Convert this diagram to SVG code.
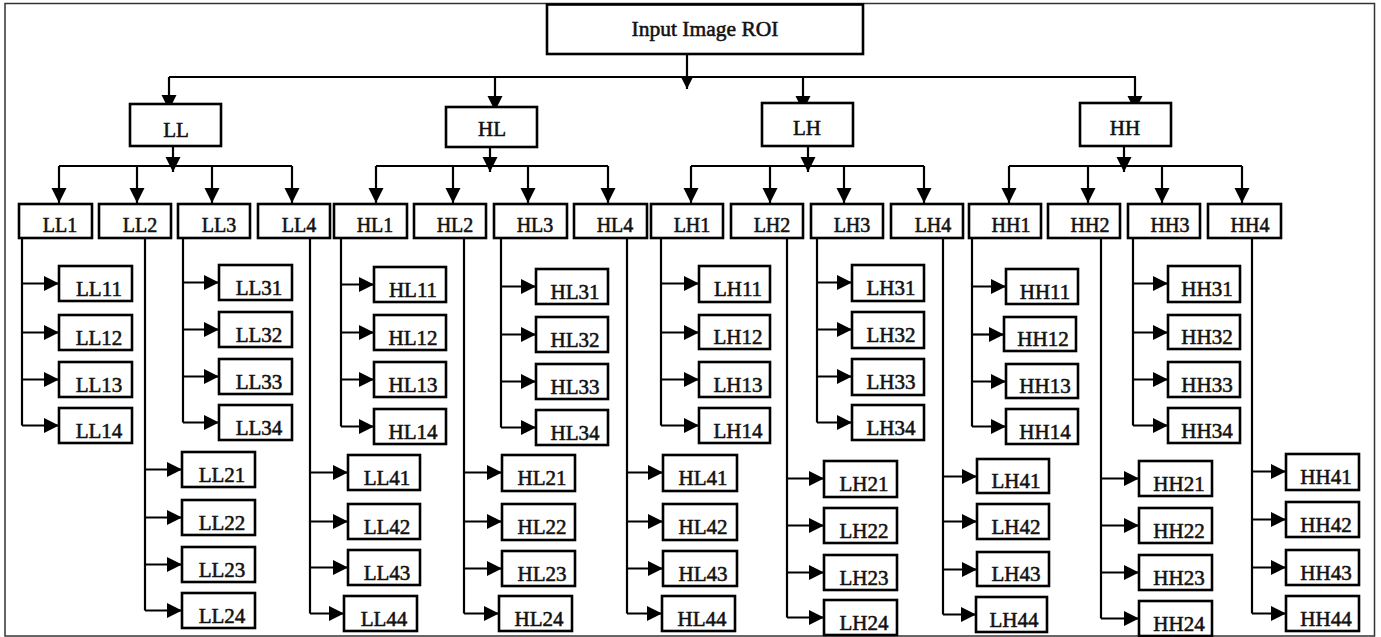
<svg xmlns="http://www.w3.org/2000/svg" width="1381" height="637" viewBox="0 0 1381 637">
<style>
.b{fill:#fff;stroke:#000;stroke-width:2.6}
.t{font-family:"Liberation Serif","Times New Roman",serif;font-weight:normal;font-size:21px;fill:#111;stroke:#111;stroke-width:0.55;text-anchor:middle}
.t2{font-size:20px}
.t0{font-size:21.5px}
.c{fill:none;stroke:#000;stroke-width:2.2}
.a{fill:none;stroke:#000;stroke-width:2.2;marker-end:url(#arr)}
.as{fill:none;stroke:#000;stroke-width:2.2;marker-end:url(#arrS)}
</style>
<defs>
<marker id="arr" markerUnits="userSpaceOnUse" markerWidth="16" markerHeight="16" refX="15" refY="7.5" orient="auto"><path d="M0,0 L15,7.5 L0,15 z" fill="#000"/></marker>
<marker id="arrS" markerUnits="userSpaceOnUse" markerWidth="14" markerHeight="14" refX="13" refY="6.5" orient="auto"><path d="M0,0 L13,6.5 L0,13 z" fill="#000"/></marker>
</defs>
<rect x="0" y="0" width="1381" height="637" fill="#fff"/>
<rect x="5" y="3.5" width="1369.5" height="632.5" fill="none" stroke="#333" stroke-width="1.5"/>

<g id="connectors">
<path class="c" d="M169 77 H1136"/>
<path class="as" d="M687 54 V89"/>
<path class="a" d="M169 77 V110"/>
<path class="a" d="M495 77 V111"/>
<path class="a" d="M803 77 V111"/>
<path class="a" d="M1135 77 V111"/>
<path class="a" d="M173 132 V172"/>
<path class="a" d="M490 134 V172"/>
<path class="a" d="M808 132 V172"/>
<path class="a" d="M1124 132 V172"/>
<path class="c" d="M59 166 H292 M376 166 H608 M691 166 H924 M1009 166 H1242"/>
<path class="a" d="M59 166 V203"/><path class="a" d="M137 166 V203"/><path class="a" d="M212 166 V203"/><path class="a" d="M292 166 V203"/>
<path class="a" d="M376 166 V203"/><path class="a" d="M453 166 V203"/><path class="a" d="M528 166 V203"/><path class="a" d="M608 166 V203"/>
<path class="a" d="M691 166 V203"/><path class="a" d="M770 166 V203"/><path class="a" d="M844 166 V203"/><path class="a" d="M924 166 V203"/>
<path class="a" d="M1009 166 V203"/><path class="a" d="M1088 166 V203"/><path class="a" d="M1162 166 V203"/><path class="a" d="M1242 166 V203"/>
<!-- LL1 -->
<path class="c" d="M22 238 V425.5"/>
<path class="a" d="M22 283.5 H59"/><path class="a" d="M22 332.5 H59"/><path class="a" d="M22 379.5 H59"/><path class="a" d="M22 425.5 H59"/>
<!-- LL3 -->
<path class="c" d="M183 238 V422.5"/>
<path class="a" d="M183 282.5 H219"/><path class="a" d="M183 329.5 H219"/><path class="a" d="M183 376.5 H219"/><path class="a" d="M183 422.5 H219"/>
<!-- LL2 -->
<path class="c" d="M145 238 V610.5"/>
<path class="a" d="M145 469.5 H182"/><path class="a" d="M145 517.5 H182"/><path class="a" d="M145 564.5 H182"/><path class="a" d="M145 610.5 H182"/>
<!-- LL4 -->
<path class="c" d="M310 238 V613.5"/>
<path class="a" d="M310 472.5 H348"/><path class="a" d="M310 521.5 H348"/><path class="a" d="M310 567.5 H348"/><path class="a" d="M310 613.5 H344"/>
<!-- HL1 -->
<path class="c" d="M341 238 V426.5"/>
<path class="a" d="M341 284.5 H374"/><path class="a" d="M341 332.5 H374"/><path class="a" d="M341 379.5 H374"/><path class="a" d="M341 426.5 H374"/>
<!-- HL3 -->
<path class="c" d="M501 238 V427.5"/>
<path class="a" d="M501 286.5 H536"/><path class="a" d="M501 334.5 H536"/><path class="a" d="M501 381.5 H536"/><path class="a" d="M501 427.5 H536"/>
<!-- HL2 -->
<path class="c" d="M464 238 V613.5"/>
<path class="a" d="M464 472.5 H502"/><path class="a" d="M464 521.5 H502"/><path class="a" d="M464 568.5 H502"/><path class="a" d="M464 613.5 H499"/>
<!-- HL4 -->
<path class="c" d="M627 238 V613.5"/>
<path class="a" d="M627 472.5 H663"/><path class="a" d="M627 521.5 H663"/><path class="a" d="M627 568.5 H663"/><path class="a" d="M627 613.5 H662"/>
<!-- LH1 -->
<path class="c" d="M661 238 V425.5"/>
<path class="a" d="M661 283.5 H699"/><path class="a" d="M661 332.5 H699"/><path class="a" d="M661 379.5 H699"/><path class="a" d="M661 425.5 H699"/>
<!-- LH3 -->
<path class="c" d="M817 238 V422.5"/>
<path class="a" d="M817 282.5 H852"/><path class="a" d="M817 329.5 H852"/><path class="a" d="M817 376.5 H852"/><path class="a" d="M817 422.5 H852"/>
<!-- LH2 -->
<path class="c" d="M787 238 V617.5"/>
<path class="a" d="M787 478.5 H824"/><path class="a" d="M787 525.5 H824"/><path class="a" d="M787 572.5 H824"/><path class="a" d="M787 617.5 H824"/>
<!-- LH4 -->
<path class="c" d="M943 238 V614.5"/>
<path class="a" d="M943 476.5 H977"/><path class="a" d="M943 521.5 H977"/><path class="a" d="M943 569.5 H977"/><path class="a" d="M943 614.5 H976"/>
<!-- HH1 -->
<path class="c" d="M972 238 V426.5"/>
<path class="a" d="M972 286.5 H1006"/><path class="a" d="M972 334.5 H1004"/><path class="a" d="M972 381.5 H1006"/><path class="a" d="M972 426.5 H1006"/>
<!-- HH3 -->
<path class="c" d="M1133 238 V425.5"/>
<path class="a" d="M1133 283.5 H1168"/><path class="a" d="M1133 332.5 H1168"/><path class="a" d="M1133 379.5 H1168"/><path class="a" d="M1133 425.5 H1168"/>
<!-- HH2 -->
<path class="c" d="M1101 238 V618.5"/>
<path class="a" d="M1101 478.5 H1139"/><path class="a" d="M1101 525.5 H1139"/><path class="a" d="M1101 572.5 H1139"/><path class="a" d="M1101 618.5 H1139"/>
<!-- HH4 -->
<path class="c" d="M1252 238 V613.5"/>
<path class="a" d="M1252 471.5 H1286"/><path class="a" d="M1252 519.5 H1286"/><path class="a" d="M1252 567.5 H1286"/><path class="a" d="M1252 613.5 H1286"/>
</g>

<g id="n-root"><rect class="b" x="547" y="4.5" width="316" height="49.5"/><text class="t t0" x="705" y="36">Input Image ROI</text></g>

<g id="n-LL"><rect class="b" x="130" y="104" width="91" height="42"/><text class="t" x="176" y="137">LL</text></g>
<g id="n-HL"><rect class="b" x="446" y="107" width="91" height="40"/><text class="t" x="492" y="136">HL</text></g>
<g id="n-LH"><rect class="b" x="762" y="103" width="91" height="43"/><text class="t" x="807" y="135">LH</text></g>
<g id="n-HH"><rect class="b" x="1080" y="103" width="91" height="43"/><text class="t" x="1125" y="135">HH</text></g>

<g id="n-LL1"><rect class="b" x="19" y="204" width="73" height="34"/><text class="t t2" x="60" y="232">LL1</text></g>
<g id="n-LL2"><rect class="b" x="99" y="204" width="72" height="34"/><text class="t t2" x="140" y="232">LL2</text></g>
<g id="n-LL3"><rect class="b" x="178" y="204" width="72" height="34"/><text class="t t2" x="219" y="232">LL3</text></g>
<g id="n-LL4"><rect class="b" x="258" y="204" width="72" height="34"/><text class="t t2" x="299" y="232">LL4</text></g>
<g id="n-HL1"><rect class="b" x="334" y="204" width="73" height="34"/><text class="t t2" x="375" y="232">HL1</text></g>
<g id="n-HL2"><rect class="b" x="414" y="204" width="72" height="34"/><text class="t t2" x="455" y="232">HL2</text></g>
<g id="n-HL3"><rect class="b" x="494" y="204" width="73" height="34"/><text class="t t2" x="535" y="232">HL3</text></g>
<g id="n-HL4"><rect class="b" x="574" y="204" width="73" height="34"/><text class="t t2" x="615" y="232">HL4</text></g>
<g id="n-LH1"><rect class="b" x="651" y="204" width="72" height="34"/><text class="t t2" x="692" y="232">LH1</text></g>
<g id="n-LH2"><rect class="b" x="731" y="204" width="72" height="34"/><text class="t t2" x="772" y="232">LH2</text></g>
<g id="n-LH3"><rect class="b" x="811" y="204" width="72" height="34"/><text class="t t2" x="852" y="232">LH3</text></g>
<g id="n-LH4"><rect class="b" x="891" y="204" width="72" height="34"/><text class="t t2" x="933" y="232">LH4</text></g>
<g id="n-HH1"><rect class="b" x="969" y="204" width="72" height="34"/><text class="t t2" x="1011" y="232">HH1</text></g>
<g id="n-HH2"><rect class="b" x="1048" y="204" width="72" height="34"/><text class="t t2" x="1090" y="232">HH2</text></g>
<g id="n-HH3"><rect class="b" x="1128" y="204" width="72" height="34"/><text class="t t2" x="1170" y="232">HH3</text></g>
<g id="n-HH4"><rect class="b" x="1208" y="204" width="73" height="34"/><text class="t t2" x="1250" y="232">HH4</text></g>

<g id="n-LL11"><rect class="b" x="59" y="266" width="73" height="35"/><text class="t" x="99" y="296">LL11</text></g>
<g id="n-LL12"><rect class="b" x="59" y="315" width="73" height="35"/><text class="t" x="99" y="345">LL12</text></g>
<g id="n-LL13"><rect class="b" x="59" y="362" width="73" height="35"/><text class="t" x="99" y="392">LL13</text></g>
<g id="n-LL14"><rect class="b" x="59" y="408" width="73" height="35"/><text class="t" x="99" y="438">LL14</text></g>
<g id="n-LL31"><rect class="b" x="219" y="265" width="73" height="35"/><text class="t" x="259" y="295">LL31</text></g>
<g id="n-LL32"><rect class="b" x="219" y="312" width="73" height="35"/><text class="t" x="259" y="342">LL32</text></g>
<g id="n-LL33"><rect class="b" x="219" y="359" width="73" height="35"/><text class="t" x="259" y="389">LL33</text></g>
<g id="n-LL34"><rect class="b" x="219" y="405" width="73" height="35"/><text class="t" x="259" y="435">LL34</text></g>
<g id="n-LL21"><rect class="b" x="182" y="452" width="73" height="35"/><text class="t" x="222" y="482">LL21</text></g>
<g id="n-LL22"><rect class="b" x="182" y="500" width="73" height="35"/><text class="t" x="222" y="530">LL22</text></g>
<g id="n-LL23"><rect class="b" x="182" y="547" width="73" height="35"/><text class="t" x="222" y="577">LL23</text></g>
<g id="n-LL24"><rect class="b" x="182" y="593" width="73" height="35"/><text class="t" x="222" y="623">LL24</text></g>
<g id="n-LL41"><rect class="b" x="348" y="455" width="72" height="35"/><text class="t" x="387" y="485">LL41</text></g>
<g id="n-LL42"><rect class="b" x="348" y="504" width="72" height="35"/><text class="t" x="387" y="534">LL42</text></g>
<g id="n-LL43"><rect class="b" x="348" y="550" width="72" height="35"/><text class="t" x="387" y="580">LL43</text></g>
<g id="n-LL44"><rect class="b" x="344" y="596" width="73" height="35"/><text class="t" x="384" y="626">LL44</text></g>

<g id="n-HL11"><rect class="b" x="374" y="267" width="72" height="35"/><text class="t" x="413" y="297">HL11</text></g>
<g id="n-HL12"><rect class="b" x="374" y="315" width="72" height="35"/><text class="t" x="413" y="345">HL12</text></g>
<g id="n-HL13"><rect class="b" x="374" y="362" width="72" height="35"/><text class="t" x="413" y="392">HL13</text></g>
<g id="n-HL14"><rect class="b" x="374" y="409" width="72" height="35"/><text class="t" x="413" y="439">HL14</text></g>
<g id="n-HL31"><rect class="b" x="536" y="269" width="72" height="35"/><text class="t" x="575" y="299">HL31</text></g>
<g id="n-HL32"><rect class="b" x="536" y="317" width="72" height="35"/><text class="t" x="575" y="347">HL32</text></g>
<g id="n-HL33"><rect class="b" x="536" y="364" width="72" height="35"/><text class="t" x="575" y="394">HL33</text></g>
<g id="n-HL34"><rect class="b" x="536" y="410" width="72" height="35"/><text class="t" x="575" y="440">HL34</text></g>
<g id="n-HL21"><rect class="b" x="502" y="455" width="73" height="36"/><text class="t" x="542" y="485">HL21</text></g>
<g id="n-HL22"><rect class="b" x="502" y="504" width="73" height="36"/><text class="t" x="542" y="534">HL22</text></g>
<g id="n-HL23"><rect class="b" x="502" y="551" width="73" height="35"/><text class="t" x="542" y="581">HL23</text></g>
<g id="n-HL24"><rect class="b" x="499" y="596" width="73" height="35"/><text class="t" x="539" y="626">HL24</text></g>
<g id="n-HL41"><rect class="b" x="663" y="455" width="74" height="36"/><text class="t" x="703" y="485">HL41</text></g>
<g id="n-HL42"><rect class="b" x="663" y="504" width="74" height="36"/><text class="t" x="703" y="534">HL42</text></g>
<g id="n-HL43"><rect class="b" x="663" y="551" width="74" height="35"/><text class="t" x="703" y="581">HL43</text></g>
<g id="n-HL44"><rect class="b" x="662" y="596" width="73" height="35"/><text class="t" x="702" y="626">HL44</text></g>

<g id="n-LH11"><rect class="b" x="699" y="266" width="71" height="36"/><text class="t" x="738" y="296">LH11</text></g>
<g id="n-LH12"><rect class="b" x="699" y="315" width="71" height="34"/><text class="t" x="738" y="344">LH12</text></g>
<g id="n-LH13"><rect class="b" x="699" y="362" width="71" height="35"/><text class="t" x="738" y="392">LH13</text></g>
<g id="n-LH14"><rect class="b" x="699" y="408" width="71" height="35"/><text class="t" x="738" y="438">LH14</text></g>
<g id="n-LH31"><rect class="b" x="852" y="265" width="72" height="36"/><text class="t" x="891" y="295">LH31</text></g>
<g id="n-LH32"><rect class="b" x="852" y="312" width="72" height="36"/><text class="t" x="891" y="342">LH32</text></g>
<g id="n-LH33"><rect class="b" x="852" y="359" width="72" height="36"/><text class="t" x="891" y="389">LH33</text></g>
<g id="n-LH34"><rect class="b" x="852" y="405" width="72" height="35"/><text class="t" x="891" y="435">LH34</text></g>
<g id="n-LH21"><rect class="b" x="824" y="461" width="73" height="36"/><text class="t" x="864" y="491">LH21</text></g>
<g id="n-LH22"><rect class="b" x="824" y="508" width="73" height="35"/><text class="t" x="864" y="538">LH22</text></g>
<g id="n-LH23"><rect class="b" x="824" y="555" width="73" height="35"/><text class="t" x="864" y="585">LH23</text></g>
<g id="n-LH24"><rect class="b" x="824" y="600" width="73" height="35"/><text class="t" x="864" y="630">LH24</text></g>
<g id="n-LH41"><rect class="b" x="977" y="459" width="72" height="34"/><text class="t" x="1016" y="488">LH41</text></g>
<g id="n-LH42"><rect class="b" x="977" y="504" width="72" height="35"/><text class="t" x="1016" y="534">LH42</text></g>
<g id="n-LH43"><rect class="b" x="977" y="552" width="72" height="34"/><text class="t" x="1016" y="581">LH43</text></g>
<g id="n-LH44"><rect class="b" x="976" y="597" width="71" height="35"/><text class="t" x="1014" y="627">LH44</text></g>

<g id="n-HH11"><rect class="b" x="1006" y="269" width="72" height="35"/><text class="t" x="1045" y="299">HH11</text></g>
<g id="n-HH12"><rect class="b" x="1004" y="317" width="72" height="34"/><text class="t" x="1043" y="346">HH12</text></g>
<g id="n-HH13"><rect class="b" x="1006" y="364" width="72" height="34"/><text class="t" x="1045" y="393">HH13</text></g>
<g id="n-HH14"><rect class="b" x="1006" y="409" width="72" height="35"/><text class="t" x="1045" y="439">HH14</text></g>
<g id="n-HH31"><rect class="b" x="1168" y="266" width="72" height="36"/><text class="t" x="1207" y="296">HH31</text></g>
<g id="n-HH32"><rect class="b" x="1168" y="315" width="72" height="34"/><text class="t" x="1207" y="344">HH32</text></g>
<g id="n-HH33"><rect class="b" x="1168" y="362" width="72" height="35"/><text class="t" x="1207" y="392">HH33</text></g>
<g id="n-HH34"><rect class="b" x="1168" y="408" width="72" height="35"/><text class="t" x="1207" y="438">HH34</text></g>
<g id="n-HH21"><rect class="b" x="1139" y="461" width="73" height="35"/><text class="t" x="1179" y="491">HH21</text></g>
<g id="n-HH22"><rect class="b" x="1139" y="508" width="73" height="35"/><text class="t" x="1179" y="538">HH22</text></g>
<g id="n-HH23"><rect class="b" x="1139" y="555" width="73" height="35"/><text class="t" x="1179" y="585">HH23</text></g>
<g id="n-HH24"><rect class="b" x="1139" y="601" width="73" height="35"/><text class="t" x="1179" y="631">HH24</text></g>
<g id="n-HH41"><rect class="b" x="1286" y="454" width="73" height="36"/><text class="t" x="1326" y="484">HH41</text></g>
<g id="n-HH42"><rect class="b" x="1286" y="502" width="73" height="35"/><text class="t" x="1326" y="532">HH42</text></g>
<g id="n-HH43"><rect class="b" x="1286" y="550" width="73" height="35"/><text class="t" x="1326" y="580">HH43</text></g>
<g id="n-HH44"><rect class="b" x="1286" y="596" width="73" height="35"/><text class="t" x="1326" y="626">HH44</text></g>
</svg>
